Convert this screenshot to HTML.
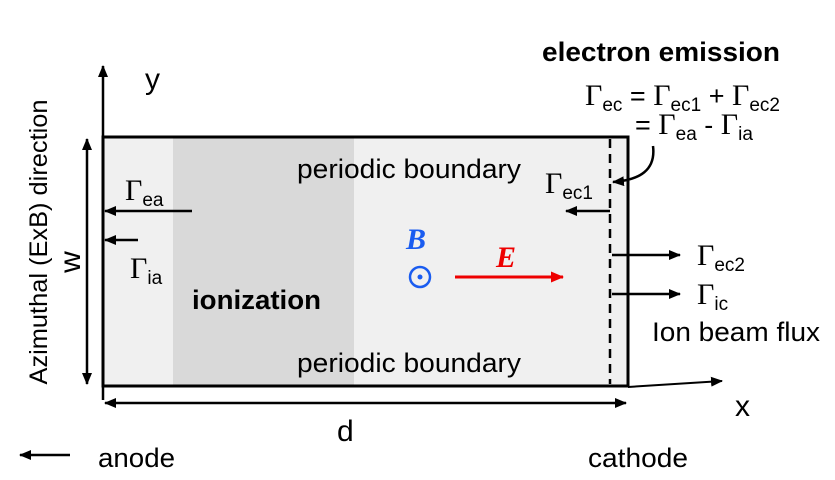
<!DOCTYPE html>
<html><head><meta charset="utf-8"><style>body{margin:0;background:#fff}svg{display:block}</style></head><body>
<svg width="835" height="480" viewBox="0 0 835 480" xmlns="http://www.w3.org/2000/svg" font-family="Liberation Sans, sans-serif">
<defs>
<marker id="ah" markerWidth="12" markerHeight="10" refX="11" refY="5" orient="auto" markerUnits="userSpaceOnUse"><path d="M0,0 L12,5 L0,10 Z" fill="#000"/></marker>
<marker id="ahs" markerWidth="12" markerHeight="10" refX="1" refY="5" orient="auto" markerUnits="userSpaceOnUse"><path d="M12,0 L0,5 L12,10 Z" fill="#000"/></marker>
<marker id="ahr" markerWidth="13" markerHeight="11" refX="12" refY="5.5" orient="auto" markerUnits="userSpaceOnUse"><path d="M0,0 L13,5.5 L0,11 Z" fill="#e00"/></marker>
</defs>
<g>
<rect x="103" y="137" width="525" height="249" fill="#f0f0f0"/>
<rect x="173" y="137" width="181" height="249" fill="#d9d9d9"/>
<rect x="103" y="137" width="525" height="249" fill="none" stroke="#000" stroke-width="3"/>
<line x1="610" y1="139" x2="610" y2="384" stroke="#000" stroke-width="2.5" stroke-dasharray="9,6"/>
</g>
<line x1="103" y1="400" x2="103" y2="66" stroke="#000" stroke-width="2.5" marker-end="url(#ah)"/>
<text x="145" y="89" font-size="30">y</text>
<line x1="628" y1="387" x2="722" y2="381" stroke="#000" stroke-width="2" marker-end="url(#ah)"/>
<text x="735" y="416" font-size="30">x</text>
<line x1="87" y1="139" x2="87" y2="384" stroke="#000" stroke-width="2.5" marker-start="url(#ahs)" marker-end="url(#ah)"/>
<text transform="translate(80,262) rotate(-90)" text-anchor="middle" font-size="30">w</text>
<text transform="translate(47,242) rotate(-90)" text-anchor="middle" font-size="25" textLength="285" lengthAdjust="spacingAndGlyphs">Azimuthal (ExB) direction</text>
<line x1="105" y1="403" x2="626" y2="403" stroke="#000" stroke-width="2.5" marker-start="url(#ahs)" marker-end="url(#ah)"/>
<text x="337" y="441" font-size="30">d</text>
<line x1="70" y1="455" x2="20" y2="455" stroke="#000" stroke-width="2.5" marker-end="url(#ah)"/>
<text x="98" y="467" font-size="27" textLength="77" lengthAdjust="spacingAndGlyphs">anode</text>
<text x="588" y="467" font-size="27" textLength="100" lengthAdjust="spacingAndGlyphs">cathode</text>
<text x="297" y="178" font-size="27" textLength="224" lengthAdjust="spacingAndGlyphs">periodic boundary</text>
<text x="297" y="372" font-size="27" textLength="224" lengthAdjust="spacingAndGlyphs">periodic boundary</text>
<text x="192" y="309" font-size="27" font-weight="bold" textLength="129" lengthAdjust="spacingAndGlyphs">ionization</text>
<text x="542" y="61" font-size="27" font-weight="bold" textLength="238" lengthAdjust="spacingAndGlyphs">electron emission</text>
<g font-size="27">
<text x="585" y="105"><tspan font-family="Liberation Serif, serif" font-size="30">Γ</tspan><tspan font-size="19" dy="6">ec</tspan><tspan dy="-6"> = </tspan><tspan font-family="Liberation Serif, serif" font-size="30">Γ</tspan><tspan font-size="19" dy="6">ec1</tspan><tspan dy="-6"> + </tspan><tspan font-family="Liberation Serif, serif" font-size="30">Γ</tspan><tspan font-size="19" dy="6">ec2</tspan></text>
<text x="635" y="134">= <tspan font-family="Liberation Serif, serif" font-size="30">Γ</tspan><tspan font-size="19" dy="6">ea</tspan><tspan dy="-6">  -  </tspan><tspan font-family="Liberation Serif, serif" font-size="30">Γ</tspan><tspan font-size="19" dy="6">ia</tspan></text>
</g>
<path d="M653,146 C656,170 640,180 613,182" fill="none" stroke="#000" stroke-width="2.5" marker-end="url(#ah)"/>
<text x="545" y="193" font-size="30"><tspan font-family="Liberation Serif, serif">Γ</tspan><tspan font-size="19" dy="6">ec1</tspan></text>
<line x1="610" y1="211" x2="566" y2="211" stroke="#000" stroke-width="2.5" marker-end="url(#ah)"/>
<text x="125" y="200" font-size="30"><tspan font-family="Liberation Serif, serif">Γ</tspan><tspan font-size="19" dy="6">ea</tspan></text>
<line x1="192" y1="211" x2="105" y2="211" stroke="#000" stroke-width="2.5" marker-end="url(#ah)"/>
<line x1="138" y1="240" x2="105" y2="240" stroke="#000" stroke-width="2.5" marker-end="url(#ah)"/>
<text x="130" y="278" font-size="30"><tspan font-family="Liberation Serif, serif">Γ</tspan><tspan font-size="19" dy="6">ia</tspan></text>
<text x="406" y="249" font-size="30" font-weight="bold" font-style="italic" fill="#1a5cf0" font-family="Liberation Serif, serif">B</text>
<circle cx="420" cy="277" r="10" fill="none" stroke="#1a5cf0" stroke-width="2.5"/>
<circle cx="420" cy="277" r="2.5" fill="#1a5cf0"/>
<text x="496" y="267" font-size="30" font-weight="bold" font-style="italic" fill="#e00" font-family="Liberation Serif, serif">E</text>
<line x1="455" y1="277" x2="563" y2="277" stroke="#e00" stroke-width="3" marker-end="url(#ahr)"/>
<line x1="612" y1="255" x2="680" y2="255" stroke="#000" stroke-width="2.5" marker-end="url(#ah)"/>
<text x="697" y="265" font-size="30"><tspan font-family="Liberation Serif, serif">Γ</tspan><tspan font-size="19" dy="6">ec2</tspan></text>
<line x1="612" y1="294" x2="680" y2="294" stroke="#000" stroke-width="2.5" marker-end="url(#ah)"/>
<text x="697" y="304" font-size="30"><tspan font-family="Liberation Serif, serif">Γ</tspan><tspan font-size="19" dy="6">ic</tspan></text>
<text x="652" y="341" font-size="27" textLength="168" lengthAdjust="spacingAndGlyphs">Ion beam flux</text>
</svg>
</body></html>
